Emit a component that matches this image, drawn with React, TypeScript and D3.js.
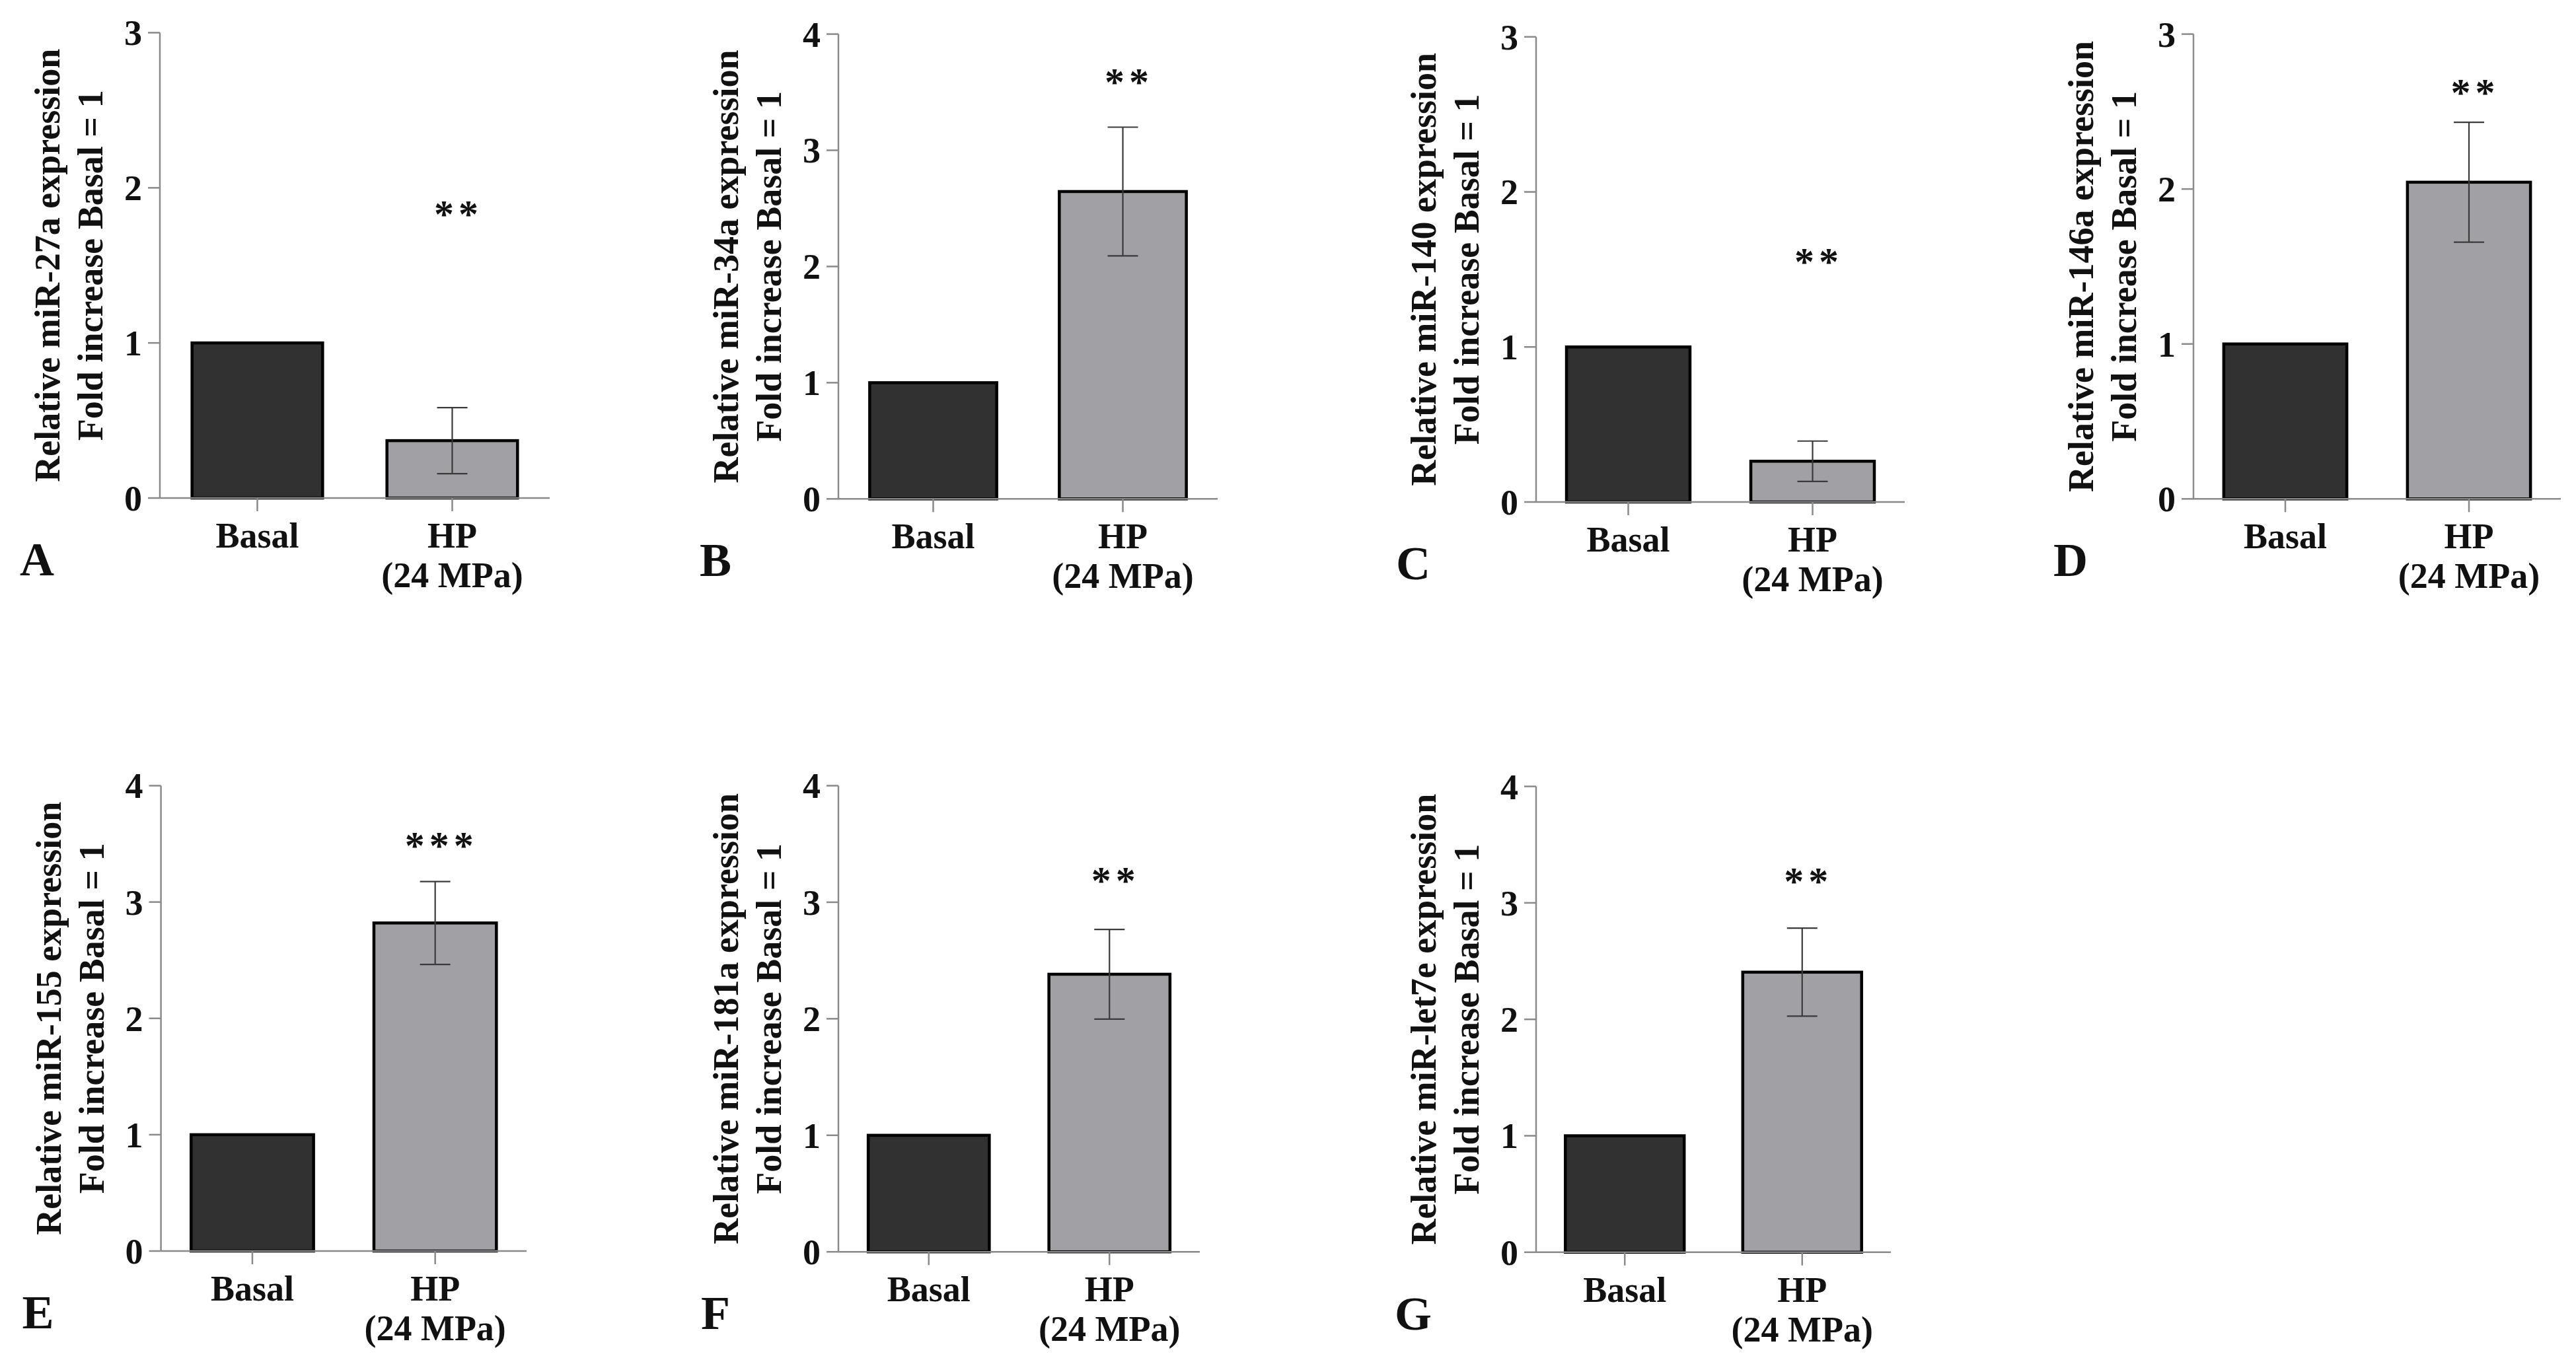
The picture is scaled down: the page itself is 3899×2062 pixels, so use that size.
import React from "react";
import * as d3 from "d3";

// Seven miRNA panels: basal vs. hydrostatic pressure (24 MPa), fold change vs. basal
const categories = ["Basal", "HP"];
const hpSubLabel = "(24 MPa)";
const panelLetters = ["A", "B", "C", "D", "E", "F", "G"];
const mirnaNames = ["miR-27a", "miR-34a", "miR-140", "miR-146a", "miR-155", "miR-181a", "miR-let7e"];
const basalValues = [1, 1, 1, 1, 1, 1, 1];
const hpValues = [0.37, 2.645, 0.263, 2.044, 2.82, 2.382, 2.405];
const hpErrors = [0.213, 0.554, 0.13, 0.387, 0.356, 0.385, 0.378];
const yMaxValues = [3, 4, 3, 3, 4, 4, 4];
const significance = ["**", "**", "**", "**", "***", "**", "**"];
const significanceY = [1.87, 3.64, 1.59, 2.66, 3.54, 3.24, 3.24];

// Plot frames (pixel layout of each panel's axes)
const frames = [
  { x0: 242, x1: 832, yTop: 49.5, yBottom: 754 },
  { x0: 1269, x1: 1843, yTop: 51.6, yBottom: 755.3 },
  { x0: 2325, x1: 2883, yTop: 55.8, yBottom: 760 },
  { x0: 3320, x1: 3876, yTop: 51.6, yBottom: 755.3 },
  { x0: 243.6, x1: 797, yTop: 1189.5, yBottom: 1894 },
  { x0: 1269, x1: 1816, yTop: 1189.5, yBottom: 1895.2 },
  { x0: 2325, x1: 2862, yTop: 1190.6, yBottom: 1895.8 },
];

const FONT = "'Liberation Serif', 'Times New Roman', serif";
const FS = 54;
const AXIS_COLOR = "#8a8a8a";
const BAR_FILLS = ["#313131", "#a1a1a5"];

function Panel({ i }: { i: number }) {
  const f = frames[i];
  const x = d3.scaleBand<string>().domain(categories).range([f.x0, f.x1]).paddingInner(0.33).paddingOuter(0.165);
  const y = d3.scaleLinear().domain([0, yMaxValues[i]]).range([f.yBottom, f.yTop]);
  const values = [basalValues[i], hpValues[i]];
  const yTicks = d3.range(0, yMaxValues[i] + 1);
  const hpCenter = (x("HP") as number) + x.bandwidth() / 2;
  const errTop = y(hpValues[i] + hpErrors[i]);
  const errBot = y(hpValues[i] - hpErrors[i]);
  const stars = significance[i].split("");
  const yMid = (f.yTop + f.yBottom) / 2;
  return (
    <g>
      {/* bars */}
      {categories.map((c, k) => (
        <rect
          key={c}
          x={x(c) as number}
          y={y(values[k])}
          width={x.bandwidth()}
          height={y(0) - y(values[k])}
          fill={BAR_FILLS[k]}
          stroke="#000"
          strokeWidth={4.5}
        />
      ))}
      {/* error bar on HP */}
      <g stroke="#3a3a3a" strokeWidth={2.2}>
        <line x1={hpCenter} x2={hpCenter} y1={errTop} y2={errBot} />
        <line x1={hpCenter - 23} x2={hpCenter + 23} y1={errTop} y2={errTop} />
        <line x1={hpCenter - 23} x2={hpCenter + 23} y1={errBot} y2={errBot} />
      </g>
      {/* axes */}
      <g stroke={AXIS_COLOR} strokeWidth={2.5}>
        <line x1={f.x0} x2={f.x0} y1={y(yMaxValues[i])} y2={y(0)} />
        <line x1={f.x0} x2={f.x1} y1={y(0)} y2={y(0)} />
        {yTicks.map((t) => (
          <line key={t} x1={f.x0 - 18} x2={f.x0} y1={y(t)} y2={y(t)} />
        ))}
        {categories.map((c) => {
          const cx = (x(c) as number) + x.bandwidth() / 2;
          return <line key={c} x1={cx} x2={cx} y1={y(0)} y2={y(0) + 20} />;
        })}
      </g>
      {/* tick labels */}
      <g fontFamily={FONT} fontWeight="bold" fontSize={FS} fill="#111">
        {yTicks.map((t) => (
          <text key={t} x={f.x0 - 27} y={y(t)} dy="0.35em" textAnchor="end">
            {t}
          </text>
        ))}
        {categories.map((c) => {
          const cx = (x(c) as number) + x.bandwidth() / 2;
          return (
            <text key={c} x={cx} y={y(0) + 75} textAnchor="middle">
              {c}
            </text>
          );
        })}
        <text x={hpCenter} y={y(0) + 135} textAnchor="middle">
          {hpSubLabel}
        </text>
        {/* y-axis title */}
        <text
          transform={`translate(${f.x0 - 170},${yMid}) rotate(-90)`}
          textAnchor="middle"
          dominantBaseline="central"
        >
          {`Relative ${mirnaNames[i]} expression`}
        </text>
        <text
          transform={`translate(${f.x0 - 105},${yMid}) rotate(-90)`}
          textAnchor="middle"
          dominantBaseline="central"
        >
          Fold increase Basal = 1
        </text>
        {/* significance */}
        {stars.map((s, k) => (
          <text
            key={k}
            x={hpCenter + 6 + (k - (stars.length - 1) / 2) * 37}
            y={y(significanceY[i]) + 29}
            textAnchor="middle"
            fontSize={60}
          >
            {s}
          </text>
        ))}
        {/* panel letter */}
        <text x={f.x0 - 186} y={y(0) + 117} textAnchor="middle" fontSize={72}>
          {panelLetters[i]}
        </text>
      </g>
    </g>
  );
}

export default function App() {
  return (
    <svg
      width={3899}
      height={2062}
      viewBox="0 0 3899 2062"
      style={{ position: "absolute", left: 0, top: 0, background: "#fff" }}
    >
      <rect width={3899} height={2062} fill="#fff" />
      {frames.map((_, i) => (
        <Panel key={i} i={i} />
      ))}
    </svg>
  );
}
